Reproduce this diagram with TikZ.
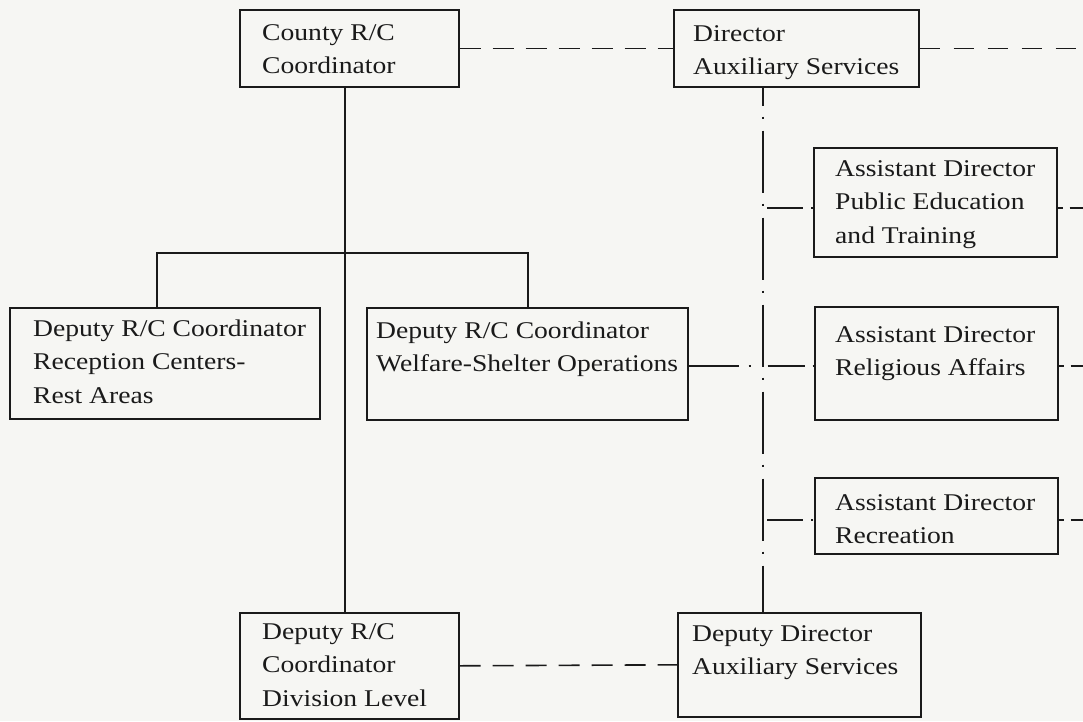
\documentclass[tikz,border=0pt]{standalone}
\usepackage{fontspec}
\setmainfont{Liberation Serif}[FakeStretch=1.15]
\usetikzlibrary{calc}
\definecolor{paper}{HTML}{F6F6F3}
\definecolor{ink}{HTML}{1A1A1A}
\newcommand\myst{\rule{0pt}{25pt}}
\begin{document}
\begin{tikzpicture}[x=1pt,y=-1pt,
  box/.style={draw=ink, line width=1.6pt, anchor=north west, inner sep=0pt},
  txt/.style={anchor=north west, inner sep=0pt, align=left, text=ink,
              font=\fontsize{24}{33.5}\selectfont},
  solidl/.style={draw=ink, line width=1.6pt},
  dashl/.style={draw=ink, line width=1.6pt, dash pattern=on 21pt off 12pt},
  dashr/.style={draw=ink, line width=1.6pt, dash pattern=on 20pt off 14pt},
  dashs/.style={draw=ink, line width=1.6pt, dash pattern=on 5pt off 7pt on 30pt off 10pt},
  spinel/.style={draw=ink, line width=1.6pt, dash pattern=on 62pt off 11pt on 2pt off 12pt, dash phase=44pt},
  branch/.style={draw=ink, line width=1.6pt, dash pattern=on 36pt off 8pt on 2pt off 20pt},
  wrline/.style={draw=ink, line width=1.6pt, dash pattern=on 50pt off 10pt on 2pt off 17pt on 37pt off 8pt on 2pt off 20pt}]

\fill[paper] (0,0) rectangle (1083,721);
\useasboundingbox (0,0) rectangle (1083,721);

% boxes
\node[box, minimum width=219pt, minimum height=77pt] (county) at (239,9) {};
\node[box, minimum width=245pt, minimum height=77pt] (director) at (673,9) {};
\node[box, minimum width=243pt, minimum height=109pt] (pe) at (813,147) {};
\node[box, minimum width=310pt, minimum height=111pt] (reception) at (9,307) {};
\node[box, minimum width=321pt, minimum height=112pt] (welfare) at (366,307) {};
\node[box, minimum width=243pt, minimum height=113pt] (religious) at (814,306) {};
\node[box, minimum width=243pt, minimum height=76pt] (recreation) at (814,477) {};
\node[box, minimum width=219pt, minimum height=106pt] (division) at (239,612) {};
\node[box, minimum width=243pt, minimum height=104pt] (deputy) at (677,612) {};

% texts (first baseline = y + 25)
\node[txt] (countyT) at (262,15) {\myst County R/C\\Coordinator};
\node[txt] (directorT) at (693,16) {\myst Director\\Auxiliary Services};
\node[txt] (peT) at (835,151) {\myst Assistant Director\\Public Education\\and Training};
\node[txt] (receptionT) at (33,311) {\myst Deputy R/C Coordinator\\Reception Centers-\\Rest Areas};
\node[txt] (welfareT) at (376,313) {\myst Deputy R/C Coordinator\\Welfare-Shelter Operations};
\node[txt] (religiousT) at (835,317) {\myst Assistant Director\\Religious Affairs};
\node[txt] (recreationT) at (835,485) {\myst Assistant Director\\Recreation};
\node[txt] (divisionT) at (262,614) {\myst Deputy R/C\\Coordinator\\Division Level};
\node[txt] (deputyT) at (692,616) {\myst Deputy Director\\Auxiliary Services};

% helper coordinates
\coordinate (trunk) at (345,0);
\coordinate (busL) at (157,253);
\coordinate (busR) at (528,253);
\coordinate (spine) at (763,0);
\coordinate (edge) at (1083,0);
\coordinate (peJ) at (763,208);
\coordinate (welJ) at (763,366);
\coordinate (recJ) at (763,520);

% solid lines
\draw[solidl] (county.south -| trunk) -- (division.north -| trunk);
\draw[solidl] (reception.north -| busL) -- (busL) -- (busR) -- (welfare.north -| busR);

% dashed lines
\draw[dashl] (county.east) -- (director.west);
\draw[dashr] (director.east) -- (director.east -| edge);
\draw[dashl] (division.east) -- (deputy.west);

% dash-dot spine and branches
\draw[spinel] (director.south -| spine) -- (deputy.north -| spine);
\draw[branch] ([xshift=4pt]peJ) -- (pe.west |- peJ);
\draw[branch] ([xshift=4pt]recJ) -- (recreation.west |- recJ);
\draw[wrline] (welfare.east |- welJ) -- (religious.west |- welJ);

% right side stubs
\draw[dashs] (pe.east |- peJ) -- (edge |- peJ);
\draw[dashs] (religious.east |- welJ) -- (edge |- welJ);
\draw[dashs] (recreation.east |- recJ) -- (edge |- recJ);
\end{tikzpicture}
\end{document}
